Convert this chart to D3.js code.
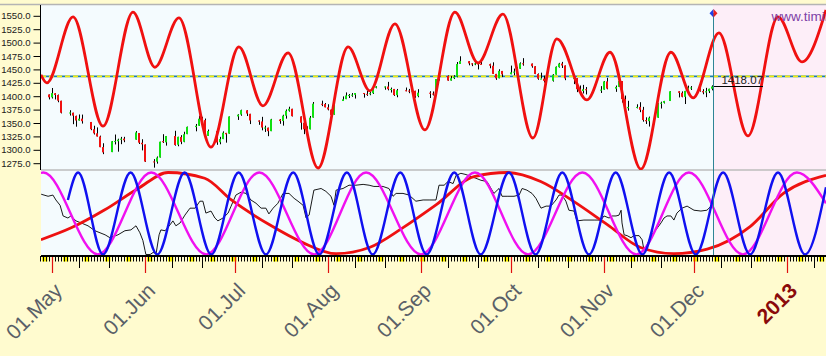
<!DOCTYPE html>
<html><head><meta charset="utf-8">
<script src="https://cdn.jsdelivr.net/npm/d3@7"></script>
<style>
html,body{margin:0;padding:0;background:#FFFBCF;overflow:hidden}
svg{display:block}
</style></head><body>
<svg id="c" width="826" height="356"></svg>
<script>
// ---------------- DATA ----------------
const tradeDays = [
"04-30","05-01","05-02","05-03","05-04",
"05-07","05-08","05-09","05-10","05-11",
"05-14","05-15","05-16","05-17","05-18",
"05-21","05-22","05-23","05-24","05-25",
"05-29","05-30","05-31","06-01",
"06-04","06-05","06-06","06-07","06-08",
"06-11","06-12","06-13","06-14","06-15",
"06-18","06-19","06-20","06-21","06-22",
"06-25","06-26","06-27","06-28","06-29",
"07-02","07-03","07-05","07-06",
"07-09","07-10","07-11","07-12","07-13",
"07-16","07-17","07-18","07-19","07-20",
"07-23","07-24","07-25","07-26","07-27",
"07-30","07-31","08-01","08-02","08-03",
"08-06","08-07","08-08","08-09","08-10",
"08-13","08-14","08-15","08-16","08-17",
"08-20","08-21","08-22","08-23","08-24",
"08-27","08-28","08-29","08-30","08-31",
"09-04","09-05","09-06","09-07",
"09-10","09-11","09-12","09-13","09-14",
"09-17","09-18","09-19","09-20","09-21",
"09-24","09-25","09-26","09-27","09-28",
"10-01","10-02","10-03","10-04","10-05",
"10-08","10-09","10-10","10-11","10-12",
"10-15","10-16","10-17","10-18","10-19",
"10-22","10-23","10-24","10-25","10-26",
"10-31","11-01","11-02",
"11-05","11-06","11-07","11-08","11-09",
"11-12","11-13","11-14","11-15","11-16",
"11-19","11-20","11-21","11-23",
"11-26","11-27","11-28","11-29","11-30",
"12-03","12-04","12-05","12-06","12-07"];
const opens = [
1403.3,1397.9,1405.5,1402.3,1391.5,
1368.8,1369.2,1363.2,1354.6,1358.1,
1351.9,1338.4,1330.8,1324.8,1305.1,
1295.7,1316.1,1316.0,1318.7,1320.8,
1318.9,1331.3,1313.1,1309.9,
1278.3,1277.8,1285.6,1316.1,1314.0,
1325.7,1309.4,1324.0,1314.9,1329.2,
1342.4,1344.8,1358.0,1355.4,1325.9,
1334.9,1314.1,1320.0,1331.5,1330.1,
1362.3,1365.8,1373.7,1367.1,
1354.7,1352.9,1341.4,1341.3,1334.8,
1356.5,1353.7,1363.6,1373.0,1376.5,
1362.3,1350.5,1338.4,1338.2,1360.1,
1385.9,1385.3,1379.3,1375.1,1365.5,
1391.0,1394.5,1401.2,1402.3,1402.6,
1405.9,1404.4,1403.9,1405.6,1415.8,
1417.9,1418.1,1413.1,1413.5,1401.9,
1411.1,1410.4,1409.3,1410.1,1400.1,
1406.5,1404.9,1403.7,1432.1,
1437.9,1429.1,1433.6,1436.6,1460.1,
1465.4,1461.2,1459.5,1461.1,1460.3,
1459.8,1456.9,1441.6,1433.4,1447.1,
1440.9,1445.0,1446.1,1451.1,1461.4,
1460.9,1455.9,1441.5,1432.8,1432.8,
1428.8,1440.3,1454.2,1460.9,1457.3,
1433.2,1433.7,1413.2,1409.7,1413.0,
1411.0,1412.2,1427.6,
1414.0,1417.3,1428.3,1394.5,1377.6,
1379.9,1380.0,1374.6,1355.4,1353.4,
1359.9,1386.8,1387.8,1391.0,
1409.2,1406.3,1398.8,1410.0,1416.0,
1416.3,1409.5,1407.1,1409.4,1414.0];
const highs = [
1403.3,1415.3,1405.5,1403.1,1391.5,
1373.9,1369.2,1363.7,1365.9,1365.7,
1351.9,1344.9,1341.8,1326.4,1312.2,
1316.4,1328.5,1320.7,1324.1,1324.2,
1334.9,1331.3,1319.7,1309.9,
1282.6,1287.6,1315.1,1329.1,1325.8,
1335.5,1324.3,1327.3,1333.7,1343.3,
1348.2,1363.5,1361.6,1358.3,1337.8,
1334.9,1324.2,1334.4,1331.5,1362.2,
1366.4,1374.8,1373.9,1367.1,
1354.9,1361.5,1345.0,1341.3,1357.7,
1357.3,1365.4,1375.3,1380.4,1376.5,
1362.3,1351.5,1343.9,1363.1,1389.2,
1391.7,1387.2,1385.0,1375.1,1394.2,
1399.6,1407.1,1404.1,1405.9,1405.9,
1405.9,1410.0,1407.7,1417.4,1418.7,
1418.1,1426.7,1416.1,1413.5,1413.5,
1416.2,1413.6,1413.9,1410.1,1413.1,
1409.3,1408.8,1432.1,1437.9,
1438.7,1437.8,1439.2,1463.8,1474.5,
1465.6,1461.5,1465.1,1461.2,1467.1,
1460.7,1463.2,1441.6,1450.2,1447.1,
1457.1,1451.5,1454.3,1463.1,1471.0,
1460.9,1455.9,1442.5,1443.9,1438.4,
1441.3,1455.5,1462.2,1464.0,1457.3,
1435.5,1433.7,1420.0,1421.1,1417.1,
1418.8,1428.4,1434.3,
1419.9,1433.4,1428.3,1401.2,1391.4,
1384.9,1388.8,1380.1,1360.6,1362.0,
1386.9,1389.8,1391.3,1409.2,
1409.2,1409.0,1410.0,1419.7,1418.9,
1423.7,1413.1,1415.6,1414.0,1420.3];
const lows = [
1394.0,1395.7,1393.9,1388.7,1367.9,
1363.9,1347.8,1343.1,1354.6,1348.9,
1336.6,1328.5,1324.8,1304.9,1291.9,
1295.7,1310.0,1296.5,1310.5,1314.2,
1318.9,1310.8,1298.9,1277.3,
1266.7,1274.2,1285.6,1312.7,1307.8,
1307.7,1306.6,1310.5,1314.1,1329.2,
1334.5,1344.8,1346.5,1324.4,1325.9,
1309.3,1310.3,1320.0,1313.3,1330.1,
1355.7,1363.5,1363.0,1348.0,
1346.6,1336.3,1333.3,1325.4,1334.8,
1348.5,1345.1,1358.1,1371.2,1362.2,
1337.6,1329.2,1331.5,1338.2,1360.1,
1381.4,1379.2,1373.6,1354.7,1365.5,
1391.0,1394.5,1396.6,1398.8,1395.6,
1397.3,1400.6,1401.8,1404.2,1414.7,
1412.1,1410.9,1406.8,1400.5,1398.0,
1409.1,1405.6,1406.2,1397.0,1398.0,
1396.6,1401.3,1403.7,1429.2,
1428.9,1429.1,1432.0,1435.3,1460.1,
1457.6,1456.1,1457.9,1449.9,1459.5,
1452.1,1441.6,1430.5,1433.4,1435.6,
1440.9,1439.0,1441.9,1451.1,1456.9,
1453.1,1441.2,1430.6,1432.8,1425.5,
1427.2,1440.3,1453.3,1452.6,1429.9,
1422.6,1407.6,1407.1,1405.1,1403.3,
1406.0,1412.2,1412.9,
1408.1,1417.3,1388.1,1377.5,1373.0,
1377.2,1370.2,1352.5,1348.1,1343.4,
1359.9,1377.0,1386.4,1391.0,
1397.7,1398.0,1385.4,1409.0,1411.6,
1408.5,1403.6,1398.2,1405.9,1410.9];
const closes = [
1397.9,1405.8,1402.3,1391.6,1369.1,
1369.6,1363.7,1354.6,1358.0,1353.4,
1338.4,1330.7,1324.8,1304.9,1295.2,
1316.0,1316.6,1318.9,1320.7,1317.8,
1332.4,1313.3,1310.3,1278.0,
1278.2,1285.5,1315.1,1315.0,1325.7,
1308.9,1324.2,1314.9,1329.1,1342.8,
1344.8,1358.0,1355.7,1325.5,1335.0,
1313.7,1320.0,1331.9,1329.0,1362.2,
1365.5,1374.0,1367.6,1354.7,
1352.5,1341.5,1341.5,1334.8,1356.8,
1353.6,1363.7,1372.8,1376.5,1362.7,
1350.5,1338.3,1337.9,1360.0,1386.0,
1385.3,1379.3,1375.3,1365.0,1391.0,
1394.2,1401.4,1402.2,1402.8,1405.9,
1404.1,1403.9,1405.5,1415.5,1418.2,
1418.1,1413.2,1413.5,1402.1,1411.1,
1410.4,1409.3,1410.5,1399.5,1406.6,
1404.9,1403.4,1432.1,1437.9,
1429.1,1433.6,1436.6,1460.0,1465.8,
1461.2,1459.3,1461.1,1460.3,1460.2,
1456.9,1441.6,1433.3,1447.2,1440.7,
1444.5,1445.8,1451.0,1461.4,1460.9,
1455.9,1441.5,1432.6,1432.8,1428.6,
1440.1,1454.9,1460.9,1457.3,1433.2,
1433.8,1413.1,1408.8,1413.0,1411.9,
1412.2,1427.6,1414.2,
1417.3,1428.4,1394.5,1377.5,1379.9,
1380.0,1374.5,1355.5,1353.3,1359.9,
1386.9,1387.8,1391.0,1409.2,
1406.3,1398.9,1409.9,1416.0,1416.2,
1409.5,1407.1,1409.3,1413.9,1418.07];

// composite projection curve (days after 1 May 2012, price level)
const compDays = [-3.7,-1.7,7,17,27,34.3,42.3,53,62.3,70.3,78.7,88.7,98.7,106,114.3,124.3,134.3,142,150.3,160.3,168.3,178.3,186,196.3,206.3,213.7,222.3,232,242,250,258];
const compVals = [1440,1425,1548,1344,1557,1454,1546,1305,1492,1382,1481,1266,1492,1410,1535,1337,1557,1462,1553,1322,1507,1393,1482,1264,1482,1397,1518,1326,1548,1464,1561];

// lower panel cycles (days after 1 May 2012, -100..100)
const blueDays = [5.3,8.7,17,26.2,35.1,44.2,53.1,62.2,71.3,80.4,89.1,98.3,106.9,116.1,124.9,134.1,142.9,152.3,161.2,170.1,179,187.9,196.8,205.7,214.6,223.7,232.7,242,251,258];
const blueVals = [33,100,-100,100,-100,100,-100,100,-100,100,-100,100,-100,100,-100,100,-100,100,-100,100,-100,100,-100,100,-100,100,-100,100,-100,64];
const magDays = [-3.7,-2.9,15.3,33.1,51.4,69.1,87.4,104.7,123,141,158.7,176.8,194.8,212.3,230.3,248.3,258];
const magVals = [99,100,-100,100,-100,100,-100,100,-100,100,-100,100,-100,100,-100,100,25];
const redDays = [-3.7,6.4,17.6,28.7,38.7,50.9,59.8,72.4,83.6,94.7,105.8,116.9,128,140.7,151.8,162.9,174,185.1,196.2,207.3,218.4,232.7,243.8,258];
const redVals = [-64,-35,9,61,100,86,33,-27,-71,-98,-83,-35,21,90,100,78,29,-27,-83,-98,-87,-32,49,93];
const oscDays = [-3.6,-1.3,0.3,1.3,2.7,3.7,5.3,6.3,8,9.7,12,14.3,16,17.7,19.3,22,24.3,26.3,28,29.3,30.3,31,31.3,32.7,33.7,34.7,35.7,36.3,37.7,39.3,40.3,41.3,42.7,44.3,46,47.7,49.3,50.3,51.3,53,54.3,55.3,57,58.7,59.7,61.3,63,64.7,66.3,68,69.7,71.3,72.3,73.7,75.3,77,79,80.7,82,83.7,84.7,85.7,87.3,89.7,91.3,93,94,94.7,97,99,101.3,103.7,105.7,107.3,110.3,112.3,113.7,114.7,117,119,121.3,123.7,125.7,128,129,130.7,132,133.7,134.7,136.3,138,139.7,141.3,143,145,147.3,149,150,151.7,154,155.7,156.7,158.3,160,161.3,163,164.7,166.3,168,169,170,171.3,172.3,174,175,177.3,180.7,183,184,185.7,186.7,188,189,189.7,190,190.7,191.7,193,194,195.7,196.7,197.3,198.3,199.7,201.3,203,204,205,206.3,207.3,208.3,210,211.7,214,216.3,218.3,219.7,220];
const oscVals = [47,42,45,33,20,-6,-11,-6,-18,-23,-30,-42,-47,-52,-59,-52,-42,-40,-30,-47,-66,-90,-100,-100,-95,-98,-52,-40,-42,-28,-18,-30,-23,-4,13,13,30,30,1,6,-11,-18,-11,1,18,45,52,49,33,25,13,13,-1,13,25,49,49,37,30,20,-11,-4,57,61,54,42,20,57,61,69,69,71,69,66,66,61,42,49,49,45,30,33,33,33,69,69,78,73,93,98,95,90,86,81,78,49,61,42,42,42,45,61,57,49,37,13,18,18,33,45,45,30,8,6,-18,-16,-16,-16,-6,-11,-6,-6,-4,8,-23,-52,-54,-59,-54,-54,-64,-88,-78,-54,-40,-23,-11,-6,-6,-16,1,13,18,8,6,8,18,25];

const priceTicks = [1275,1300,1325,1350,1375,1400,1425,1450,1475,1500,1525,1550];
const levelLine = 1437;
const lastClose = 1418.07;
const lastDay = "12-07";
const siteText = "www.timingsolution.com";

// ---------------- LAYOUT ----------------
const L = 41, R = 826, T = 5, MID = 170, B = 256;
const FONT = "'Liberation Sans', Arial, sans-serif";
const base = Date.UTC(2012, 4, 1);
const fromDay = d => new Date(base + d * 864e5);
const fromMD = s => { const [m, d] = s.split("-").map(Number); return new Date(Date.UTC(2012, m - 1, d)); };

const x = d3.scaleUtc().domain([new Date(Date.UTC(2012,4,1)), new Date(Date.UTC(2013,0,1))]).range([52, 787]);
const y = d3.scaleLinear().domain([1275, 1550]).range([163.2, 15.8]);
const yc = d3.scaleLinear().domain([-100, 100]).range([254.5, 172.5]);

const svg = d3.select("#c");
const defs = svg.append("defs");
defs.append("clipPath").attr("id", "clipTop").append("rect").attr("x", L).attr("y", T).attr("width", R - L).attr("height", MID - T);
defs.append("clipPath").attr("id", "clipBot").append("rect").attr("x", L).attr("y", MID).attr("width", R - L).attr("height", B - MID);

svg.append("rect").attr("width", 826).attr("height", 356).attr("fill", "#FFFBCF");
svg.append("rect").attr("x", L).attr("y", T).attr("width", R - L).attr("height", B - T).attr("fill", "#F4FBFE");
const vx = x(fromMD(lastDay)) + 1;
svg.append("rect").attr("x", vx).attr("y", T).attr("width", R - vx).attr("height", B - T).attr("fill", "#FDEEF8");
svg.append("line").attr("x1", 0).attr("x2", 826).attr("y1", 4.5).attr("y2", 4.5).attr("stroke", "#B4B4B4").attr("stroke-width", 1.5);
svg.append("line").attr("x1", L).attr("x2", R).attr("y1", MID).attr("y2", MID).attr("stroke", "#BDBDBD").attr("stroke-width", 1.5);

// ---- top panel
const topG = svg.append("g").attr("clip-path", "url(#clipTop)");
topG.append("line").attr("x1", L).attr("x2", R).attr("y1", y(levelLine)).attr("y2", y(levelLine)).attr("stroke", "#1E7FA8").attr("stroke-width", 1.6);
topG.append("line").attr("x1", L).attr("x2", R).attr("y1", y(levelLine)).attr("y2", y(levelLine)).attr("stroke", "#F2EE10").attr("stroke-width", 1.8).attr("stroke-dasharray", "5,3");

const candles = tradeDays.map((s, i) => ({ date: fromMD(s), o: opens[i], h: highs[i], l: lows[i], c: closes[i] }));
const cg = topG.append("g");
cg.selectAll("line").data(candles).join("line")
  .attr("x1", d => x(d.date) + 0.5).attr("x2", d => x(d.date) + 0.5)
  .attr("y1", d => y(d.h)).attr("y2", d => y(d.l)).attr("stroke", "#000").attr("stroke-width", 1);
cg.selectAll("rect").data(candles).join("rect")
  .attr("x", d => x(d.date) - 1).attr("width", 2)
  .attr("y", d => y(Math.max(d.o, d.c))).attr("height", d => Math.max(1, Math.abs(y(d.o) - y(d.c))))
  .attr("fill", d => d.c >= d.o ? "#10E010" : "#F01010");

const lineTop = d3.line().x(d => x(fromDay(d[0]))).y(d => y(d[1])).curve(d3.curveMonotoneX);
topG.append("path").attr("d", lineTop(d3.zip(compDays, compVals))).attr("fill", "none").attr("stroke", "#F01010").attr("stroke-width", 2.8);

topG.append("line").attr("x1", vx).attr("x2", x(fromDay(237))).attr("y1", y(lastClose)).attr("y2", y(lastClose)).attr("stroke", "#000").attr("stroke-width", 1.2);
topG.append("text").attr("x", x(fromDay(237))).attr("y", y(lastClose) - 3).attr("text-anchor", "end")
  .attr("font-family", FONT).attr("font-size", 11.5).attr("fill", "#222").text(lastClose.toFixed(2));
topG.append("text").attr("x", 771.5).attr("y", 21).attr("font-family", FONT).attr("font-size", 13.5).attr("fill", "#7E3FA6").text(siteText);

// ---- lower panel
const botG = svg.append("g").attr("clip-path", "url(#clipBot)");
const lineBot = d3.line().x(d => x(fromDay(d[0]))).y(d => yc(d[1])).curve(d3.curveMonotoneX);
botG.append("path").attr("d", d3.line().x(d => x(fromDay(d[0]))).y(d => yc(d[1]))(d3.zip(oscDays, oscVals))).attr("fill", "none").attr("stroke", "#000").attr("stroke-width", 0.9);
botG.append("path").attr("d", lineBot(d3.zip(redDays, redVals))).attr("fill", "none").attr("stroke", "#EE1111").attr("stroke-width", 2.8);
botG.append("path").attr("d", lineBot(d3.zip(magDays, magVals))).attr("fill", "none").attr("stroke", "#F010F0").attr("stroke-width", 2.4);
botG.append("path").attr("d", lineBot(d3.zip(blueDays, blueVals))).attr("fill", "none").attr("stroke", "#1010F0").attr("stroke-width", 2.4);

// vertical "today" line and marker
svg.append("line").attr("x1", vx + 0.5).attr("x2", vx + 0.5).attr("y1", 13).attr("y2", B).attr("stroke", "#2E8496").attr("stroke-width", 1);
svg.append("path").attr("d", `M${vx+0.5},9 L${vx-3.5},13.3 L${vx+0.5},17.6 Z`).attr("fill", "#2040E8");
svg.append("path").attr("d", `M${vx+0.5},9 L${vx+4.5},13.3 L${vx+0.5},17.6 Z`).attr("fill", "#E82020");

// ---- y axis
const ya = svg.append("g").attr("transform", `translate(${L - 0.5},0)`)
  .call(d3.axisLeft(y).tickValues(priceTicks).tickFormat(d3.format(".1f")).tickSize(7).tickSizeOuter(0).tickPadding(3));
ya.select(".domain").remove();
ya.selectAll("text").attr("font-family", FONT).attr("font-size", 9.6).attr("fill", "#1a1a1a");
ya.selectAll("line").attr("stroke", "#000");
svg.append("line").attr("x1", L - 0.5).attr("x2", L - 0.5).attr("y1", T).attr("y2", MID).attr("stroke", "#000");

// ---- x axis
const allDays = d3.utcDay.range(fromDay(-4), fromDay(259));
const weekendSat = allDays.filter(d => d.getUTCDay() === 6);
svg.append("g").selectAll("rect").data(weekendSat).join("rect")
  .attr("x", d => x(d) - 1).attr("width", d => x(d3.utcDay.offset(d, 1)) - x(d) + 2.5)
  .attr("y", 257).attr("height", 4.5).attr("fill", "#F6F000");
const ad = svg.append("g").attr("transform", `translate(0,${B})`)
  .call(d3.axisBottom(x).tickValues(allDays).tickSize(5.5).tickFormat(""));
ad.select(".domain").remove();
ad.selectAll("line").attr("stroke", "#000");
const dec = allDays.filter(d => d.getUTCDate() === 10 || d.getUTCDate() === 20);
const adec = svg.append("g").attr("transform", `translate(0,${B})`)
  .call(d3.axisBottom(x).tickValues(dec).tickSize(12).tickFormat(""));
adec.select(".domain").remove();
adec.selectAll("line").attr("stroke", "#000");
const months = d3.utcMonth.range(fromDay(-4), fromDay(259));
const am = svg.append("g").attr("transform", `translate(0,${B})`)
  .call(d3.axisBottom(x).tickValues(months).tickSize(17)
    .tickFormat(d => d.getUTCMonth() === 0 ? d3.utcFormat("%Y")(d) : d3.utcFormat("01.%b")(d)));
am.select(".domain").remove();
am.selectAll("line").attr("stroke", "#E01010").attr("stroke-width", 1.2);
am.selectAll("text")
  .attr("transform", "translate(11,36) rotate(-45)").attr("x", 0).attr("y", 0).attr("dy", 0)
  .attr("text-anchor", "end").attr("font-family", FONT).attr("font-size", 21)
  .attr("fill", d => d.getUTCMonth() === 0 ? "#8A0A0A" : "#5A6068")
  .attr("font-weight", d => d.getUTCMonth() === 0 ? "bold" : "normal");
svg.append("line").attr("x1", L).attr("x2", R).attr("y1", B).attr("y2", B).attr("stroke", "#000").attr("stroke-width", 2);
</script>
</body></html>
